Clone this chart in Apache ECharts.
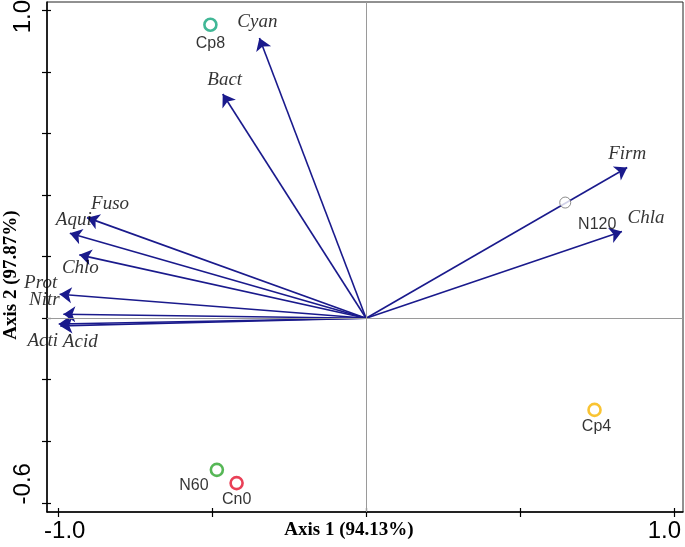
<!DOCTYPE html>
<html><head><meta charset="utf-8">
<script src="https://cdn.jsdelivr.net/npm/echarts@6/dist/echarts.min.js"></script>
<style>html,body{margin:0;padding:0;background:#fff}#c{width:685px;height:547px}</style>
</head><body><div id="c"></div>
<script>
// ---- data ----
const speciesNames = ['Cyan','Bact','Firm','Chla','Fuso','Aqui','Chlo','Prot','Nitr','Acti','Acid'];
const speciesX = [-0.346,-0.465,0.847,0.830,-0.905,-0.961,-0.930,-0.994,-0.982,-0.997,-0.992];
const speciesY = [0.911,0.729,0.490,0.282,0.327,0.276,0.206,0.078,0.013,-0.019,-0.025];
const sampleNames = ['Cp8','N120','Cp4','N60','Cn0'];
const sampleX = [-0.505,0.646,0.741,-0.484,-0.420];
const sampleY = [0.954,0.376,-0.298,-0.493,-0.536];
const xTicks = [-1.0,-0.5,0,0.5,1.0];
const xLabelValues = [-1.0,1.0];
const xTickLabels = ['-1.0','1.0'];
const yTicks = [-0.6,-0.4,-0.2,0,0.2,0.4,0.6,0.8,1.0];
const yLabelValues = [-0.6,1.0];
const yTickLabels = ['-0.6','1.0'];
const xTitle = 'Axis 1 (94.13%)';
const yTitle = 'Axis 2 (97.87%)';

// ---- styles ----
const speciesLabelOffset = [[-2,-16],[2,-14],[0,-13],[24,-13],[23,-14],[4,-13],[1,13],[-19,-11],[-19,-14],[-16,17],[20,16]];
const sampleColors = ['#12a57c','#6e6e6e','#f7b500','#2ca52c','#e3102d'];
const sampleBorder = [2.6,1,2.6,2.6,2.6];
const sampleSize = [12,11,12,12,12];
const sampleLabelOffset = [[0,19],[32,22],[2,17],[-23,16],[0,17]];

const XMIN=-1.035, XMAX=1.028, YMIN=-0.630, YMAX=1.028;
const chart = echarts.init(document.getElementById('c'), null, {renderer:'canvas'});
const tickFont = {fontFamily:'Liberation Sans, Arial', fontSize:24, color:'#000'};
const titleFont = {fontFamily:'Liberation Serif, Times New Roman', fontWeight:'bold', fontSize:19, color:'#000'};

chart.setOption({
  animation:false,
  grid:{left:47, right:2, top:2, bottom:35, containLabel:false, outerBoundsMode:'none',
    show:true, borderColor:'#222', borderWidth:1},
  xAxis:[{
    type:'value', min:XMIN, max:XMAX, position:'bottom',
    axisLine:{show:true, onZero:false, lineStyle:{color:'#000', width:1.5}},
    axisTick:{show:true, customValues:xTicks, length:5, lineStyle:{color:'#000', width:1.2}},
    axisLabel:{show:true, customValues:xLabelValues, margin:7,
      formatter:v=>{const i=xLabelValues.indexOf(v); return i===0?'{a|'+xTickLabels[i]+'}':'{b|'+xTickLabels[i]+'}';},
      rich:{a:Object.assign({padding:[0,0,0,14]},tickFont), b:Object.assign({padding:[0,20,0,0]},tickFont)}},
    splitLine:{show:false},
    name:xTitle, nameLocation:'middle', nameGap:9, nameMoveOverlap:false,
    nameTextStyle:Object.assign({padding:[0,32,0,0], verticalAlign:'top'}, titleFont)
  },{
    type:'value', min:XMIN, max:XMAX, position:'bottom',
    axisLine:{show:false, onZero:false},
    axisTick:{show:true, inside:true, customValues:xTicks, length:4, lineStyle:{color:'#000', width:1.2}},
    axisLabel:{show:false}, splitLine:{show:false}
  }],
  yAxis:[{
    type:'value', min:YMIN, max:YMAX, position:'left',
    axisLine:{show:true, onZero:false, lineStyle:{color:'#000', width:1.5}},
    axisTick:{show:true, customValues:yTicks, length:5, lineStyle:{color:'#000', width:1.2}},
    axisLabel:{show:true, customValues:yLabelValues, rotate:90, margin:12,
      formatter:v=>{const i=yLabelValues.indexOf(v); return i===0?'{a|'+yTickLabels[i]+'}':'{b|'+yTickLabels[i]+'}';},
      rich:{a:Object.assign({padding:[0,0,0,38]},tickFont), b:Object.assign({padding:[0,12,0,0]},tickFont)}},
    splitLine:{show:false},
    name:yTitle, nameLocation:'middle', nameRotate:90, nameGap:26, nameMoveOverlap:false,
    nameTextStyle:Object.assign({padding:[0,36,0,0]}, titleFont)
  },{
    type:'value', min:YMIN, max:YMAX, position:'left',
    axisLine:{show:false, onZero:false},
    axisTick:{show:true, inside:true, customValues:yTicks, length:4, lineStyle:{color:'#000', width:1.2}},
    axisLabel:{show:false}, splitLine:{show:false}
  }],
  series:[
    {
      type:'scatter', xAxisIndex:0, yAxisIndex:0, symbolSize:0, data:[], silent:true,
      markLine:{silent:true, symbol:['none','none'], label:{show:false},
        lineStyle:{color:'#9a9a9a', width:1, type:'solid'},
        data:[{xAxis:0},{yAxis:0}]}
    },
    {
      type:'scatter', xAxisIndex:1, yAxisIndex:1, symbolSize:0, data:[], silent:true
    },
    {
      type:'lines', coordinateSystem:'cartesian2d', xAxisIndex:0, yAxisIndex:0,
      symbol:['none','arrow'], symbolSize:[0,12],
      lineStyle:{color:'#1a1a8c', width:1.6, opacity:1},
      data:speciesNames.map((n,i)=>({name:n, coords:[[0,0],[speciesX[i],speciesY[i]]]}))
    },
    {
      type:'scatter', xAxisIndex:0, yAxisIndex:0, symbolSize:1, itemStyle:{color:'rgba(0,0,0,0)'},
      data:speciesNames.map((n,i)=>({name:n, value:[speciesX[i],speciesY[i]],
        label:{show:true, position:'inside', offset:speciesLabelOffset[i], formatter:'{b}',
          fontFamily:'Liberation Serif, Times New Roman', fontStyle:'italic', fontSize:19, color:'#000'}}))
    },
    {
      type:'scatter', xAxisIndex:0, yAxisIndex:0,
      data:sampleNames.map((n,i)=>({name:n, value:[sampleX[i],sampleY[i]], symbolSize:sampleSize[i],
        itemStyle:{color:'#fff', borderColor:sampleColors[i], borderWidth:sampleBorder[i]},
        label:{show:true, position:'inside', offset:sampleLabelOffset[i], formatter:'{b}',
          fontFamily:'Liberation Sans, Arial', fontSize:16, color:'#000'}}))
    }
  ]
});
</script></body></html>
